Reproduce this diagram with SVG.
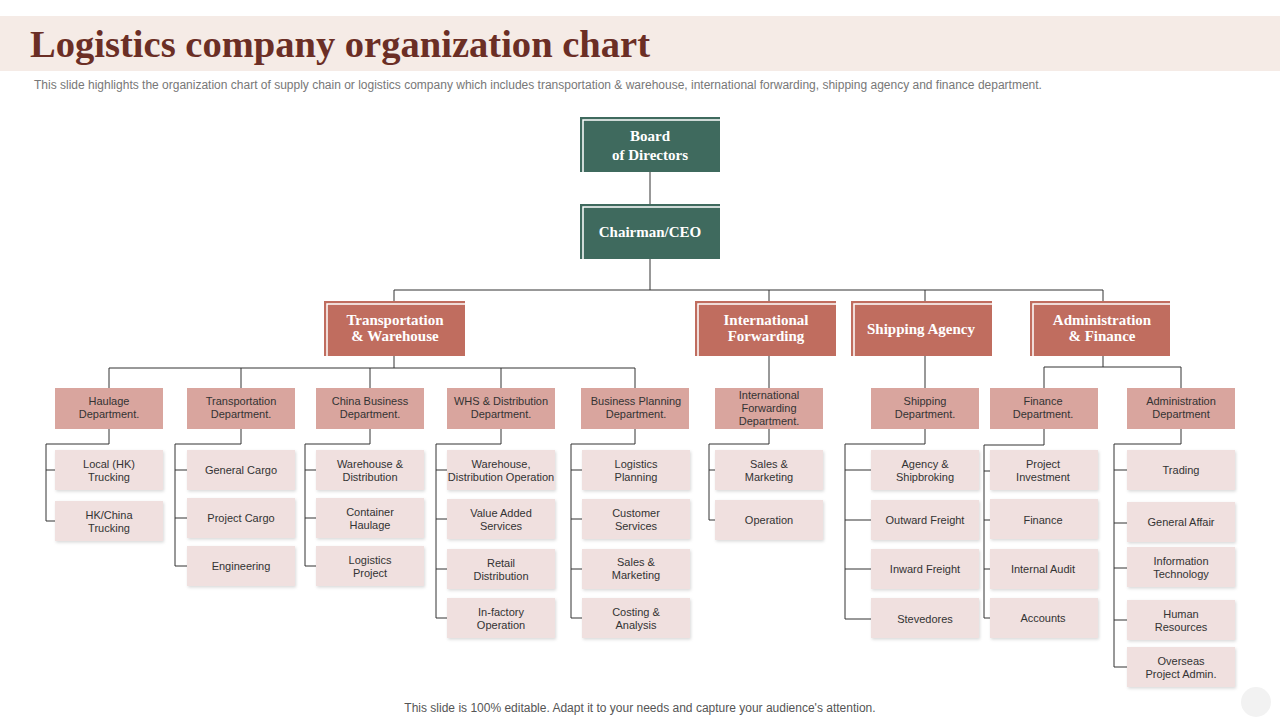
<svg xmlns="http://www.w3.org/2000/svg" width="1280" height="720" viewBox="0 0 1280 720">
<style>
.top{fill:#3F6A5E}.div{fill:#C06D5F}.dep{fill:#D9A59E}.leaf{fill:#F0E0DF;filter:url(#sh)}
.hl{fill:none;stroke:#fff;stroke-width:1.5}
.tb{font-family:"Liberation Serif",serif;font-weight:bold;fill:#fff;text-anchor:middle;font-size:15px}
.t{font-family:"Liberation Sans",Arial,sans-serif;font-size:11px;fill:#333;text-anchor:middle}
.c{fill:none;stroke:#333;stroke-width:1}
</style>
<defs><filter id="sh" x="-10%" y="-10%" width="130%" height="140%"><feDropShadow dx="1" dy="1.5" stdDeviation="1.5" flood-color="#000" flood-opacity="0.15"/></filter></defs>
<rect width="1280" height="720" fill="#fff"/>
<rect x="0" y="16" width="1280" height="55" fill="#F5EBE6"/>
<text x="30" y="57" font-family="Liberation Serif,serif" font-weight="bold" font-size="37" fill="#6B2E25" textLength="620" lengthAdjust="spacingAndGlyphs">Logistics company organization chart</text>
<text x="34" y="89" font-family="Liberation Sans,Arial,sans-serif" font-size="12" fill="#777">This slide highlights the organization chart of supply chain or logistics company which includes transportation &amp; warehouse, international forwarding, shipping agency and finance department.</text>
<g id="connectors">
<path class="c" d="M650 172V204M650 259V290M394 290H1103M394 290V301M769 290V301M925 290V301M1103 290V301"/>
<path class="c" d="M394 356V368M109 368H635M109 368V388M241 368V388M370 368V388M501 368V388M635 368V388"/>
<path class="c" d="M769 356V388M925 356V388M1103 356V367M1044 367H1181M1044 367V388M1181 367V388"/>
<path class="c" d="M109 429V444H46V521M46 470H55M46 521H55"/>
<path class="c" d="M241 429V444H175V566M175 470H187M175 518H187M175 566H187"/>
<path class="c" d="M370 429V444H305V566M305 470H316M305 518H316M305 566H316"/>
<path class="c" d="M501 429V444H436V618M436 470H447M436 519H447M436 569H447M436 618H447"/>
<path class="c" d="M635 429V444H571V618M571 470H582M571 519H582M571 569H582M571 618H582"/>
<path class="c" d="M769 429V444H709V520M709 470H715M709 520H715"/>
<path class="c" d="M925 429V444H845V619M845 470H871M845 520H871M845 569H871M845 619H871"/>
<path class="c" d="M1044 429V445H984V618M984 471H990M984 520H990M984 569H990M984 618H990"/>
<path class="c" d="M1181 429V444H1114V667M1114 470H1127M1114 523H1127M1114 568H1127M1114 620H1127M1114 667H1127"/>
</g>
<g id="board"><rect class="top" x="580" y="117" width="140" height="55"/><path class="hl" d="M583 173V120H720"/><text class="tb" x="650" y="141">Board</text><text class="tb" x="650" y="160">of Directors</text></g>
<g id="ceo"><rect class="top" x="580" y="204" width="140" height="55"/><path class="hl" d="M583 260V207H720"/><text class="tb" x="650" y="237">Chairman/CEO</text></g>
<g id="tw"><rect class="div" x="324" y="301" width="141" height="55"/><path class="hl" d="M327 357V304H465"/><text class="tb" x="395" y="325" font-size="14">Transportation</text><text class="tb" x="395" y="341" font-size="14">&amp; Warehouse</text></g>
<g id="if"><rect class="div" x="695" y="301" width="141" height="55"/><path class="hl" d="M698 357V304H836"/><text class="tb" x="766" y="325" font-size="14">International</text><text class="tb" x="766" y="341" font-size="14">Forwarding</text></g>
<g id="sa"><rect class="div" x="851" y="301" width="141" height="55"/><path class="hl" d="M854 357V304H992"/><text class="tb" x="921" y="334" font-size="14">Shipping Agency</text></g>
<g id="af"><rect class="div" x="1030" y="301" width="140" height="55"/><path class="hl" d="M1033 357V304H1170"/><text class="tb" x="1102" y="325" font-size="14">Administration</text><text class="tb" x="1102" y="341" font-size="14">&amp; Finance</text></g>
<g id="d1"><rect class="dep" x="55" y="388" width="108" height="41"/><text class="t" x="109" y="405">Haulage</text><text class="t" x="109" y="418">Department.</text></g>
<g id="d2"><rect class="dep" x="187" y="388" width="108" height="41"/><text class="t" x="241" y="405">Transportation</text><text class="t" x="241" y="418">Department.</text></g>
<g id="d3"><rect class="dep" x="316" y="388" width="108" height="41"/><text class="t" x="370" y="405">China Business</text><text class="t" x="370" y="418">Department.</text></g>
<g id="d4"><rect class="dep" x="447" y="388" width="108" height="41"/><text class="t" x="501" y="405">WHS &amp; Distribution</text><text class="t" x="501" y="418">Department.</text></g>
<g id="d5"><rect class="dep" x="581" y="388" width="108" height="41"/><text class="t" x="636" y="405">Business Planning</text><text class="t" x="636" y="418">Department.</text></g>
<g id="d6"><rect class="dep" x="715" y="388" width="108" height="41"/><text class="t" x="769" y="399">International</text><text class="t" x="769" y="412">Forwarding</text><text class="t" x="769" y="425">Department.</text></g>
<g id="d7"><rect class="dep" x="871" y="388" width="108" height="41"/><text class="t" x="925" y="405">Shipping</text><text class="t" x="925" y="418">Department.</text></g>
<g id="d8"><rect class="dep" x="990" y="388" width="108" height="41"/><text class="t" x="1043" y="405">Finance</text><text class="t" x="1043" y="418">Department.</text></g>
<g id="d9"><rect class="dep" x="1127" y="388" width="108" height="41"/><text class="t" x="1181" y="405">Administration</text><text class="t" x="1181" y="418">Department</text></g>
<g id="l1"><rect class="leaf" x="55" y="450" width="108" height="40"/><text class="t" x="109" y="468">Local (HK)</text><text class="t" x="109" y="481">Trucking</text></g>
<g id="l2"><rect class="leaf" x="55" y="501" width="108" height="40"/><text class="t" x="109" y="519">HK/China</text><text class="t" x="109" y="532">Trucking</text></g>
<g id="l3"><rect class="leaf" x="187" y="450" width="108" height="40"/><text class="t" x="241" y="474">General Cargo</text></g>
<g id="l4"><rect class="leaf" x="187" y="498" width="108" height="40"/><text class="t" x="241" y="522">Project Cargo</text></g>
<g id="l5"><rect class="leaf" x="187" y="546" width="108" height="40"/><text class="t" x="241" y="570">Engineering</text></g>
<g id="l6"><rect class="leaf" x="316" y="450" width="108" height="40"/><text class="t" x="370" y="468">Warehouse &amp;</text><text class="t" x="370" y="481">Distribution</text></g>
<g id="l7"><rect class="leaf" x="316" y="498" width="108" height="40"/><text class="t" x="370" y="516">Container</text><text class="t" x="370" y="529">Haulage</text></g>
<g id="l8"><rect class="leaf" x="316" y="546" width="108" height="40"/><text class="t" x="370" y="564">Logistics</text><text class="t" x="370" y="577">Project</text></g>
<g id="l9"><rect class="leaf" x="447" y="450" width="108" height="40"/><text class="t" x="501" y="468">Warehouse,</text><text class="t" x="501" y="481">Distribution Operation</text></g>
<g id="l10"><rect class="leaf" x="447" y="499" width="108" height="40"/><text class="t" x="501" y="517">Value Added</text><text class="t" x="501" y="530">Services</text></g>
<g id="l11"><rect class="leaf" x="447" y="549" width="108" height="40"/><text class="t" x="501" y="567">Retail</text><text class="t" x="501" y="580">Distribution</text></g>
<g id="l12"><rect class="leaf" x="447" y="598" width="108" height="40"/><text class="t" x="501" y="616">In-factory</text><text class="t" x="501" y="629">Operation</text></g>
<g id="l13"><rect class="leaf" x="582" y="450" width="108" height="40"/><text class="t" x="636" y="468">Logistics</text><text class="t" x="636" y="481">Planning</text></g>
<g id="l14"><rect class="leaf" x="582" y="499" width="108" height="40"/><text class="t" x="636" y="517">Customer</text><text class="t" x="636" y="530">Services</text></g>
<g id="l15"><rect class="leaf" x="582" y="549" width="108" height="40"/><text class="t" x="636" y="566">Sales &amp;</text><text class="t" x="636" y="579">Marketing</text></g>
<g id="l16"><rect class="leaf" x="582" y="598" width="108" height="40"/><text class="t" x="636" y="616">Costing &amp;</text><text class="t" x="636" y="629">Analysis</text></g>
<g id="l17"><rect class="leaf" x="715" y="450" width="108" height="40"/><text class="t" x="769" y="468">Sales &amp;</text><text class="t" x="769" y="481">Marketing</text></g>
<g id="l18"><rect class="leaf" x="715" y="500" width="108" height="40"/><text class="t" x="769" y="524">Operation</text></g>
<g id="l19"><rect class="leaf" x="871" y="450" width="108" height="40"/><text class="t" x="925" y="468">Agency &amp;</text><text class="t" x="925" y="481">Shipbroking</text></g>
<g id="l20"><rect class="leaf" x="871" y="500" width="108" height="40"/><text class="t" x="925" y="524">Outward Freight</text></g>
<g id="l21"><rect class="leaf" x="871" y="549" width="108" height="40"/><text class="t" x="925" y="573">Inward Freight</text></g>
<g id="l22"><rect class="leaf" x="871" y="598" width="108" height="40"/><text class="t" x="925" y="623">Stevedores</text></g>
<g id="l23"><rect class="leaf" x="990" y="450" width="108" height="40"/><text class="t" x="1043" y="468">Project</text><text class="t" x="1043" y="481">Investment</text></g>
<g id="l24"><rect class="leaf" x="990" y="499" width="108" height="40"/><text class="t" x="1043" y="524">Finance</text></g>
<g id="l25"><rect class="leaf" x="990" y="549" width="108" height="40"/><text class="t" x="1043" y="573">Internal Audit</text></g>
<g id="l26"><rect class="leaf" x="990" y="598" width="108" height="40"/><text class="t" x="1043" y="622">Accounts</text></g>
<g id="l27"><rect class="leaf" x="1127" y="450" width="108" height="40"/><text class="t" x="1181" y="474">Trading</text></g>
<g id="l28"><rect class="leaf" x="1127" y="502" width="108" height="40"/><text class="t" x="1181" y="526">General Affair</text></g>
<g id="l29"><rect class="leaf" x="1127" y="547" width="108" height="40"/><text class="t" x="1181" y="565">Information</text><text class="t" x="1181" y="578">Technology</text></g>
<g id="l30"><rect class="leaf" x="1127" y="600" width="108" height="40"/><text class="t" x="1181" y="618">Human</text><text class="t" x="1181" y="631">Resources</text></g>
<g id="l31"><rect class="leaf" x="1127" y="647" width="108" height="40"/><text class="t" x="1181" y="665">Overseas</text><text class="t" x="1181" y="678">Project Admin.</text></g>
<text x="640" y="712" text-anchor="middle" font-family="Liberation Sans,Arial,sans-serif" font-size="12" fill="#555">This slide is 100% editable. Adapt it to your needs and capture your audience's attention.</text>
<circle cx="1256" cy="702" r="15" fill="#F2F2F2"/>
</svg>
